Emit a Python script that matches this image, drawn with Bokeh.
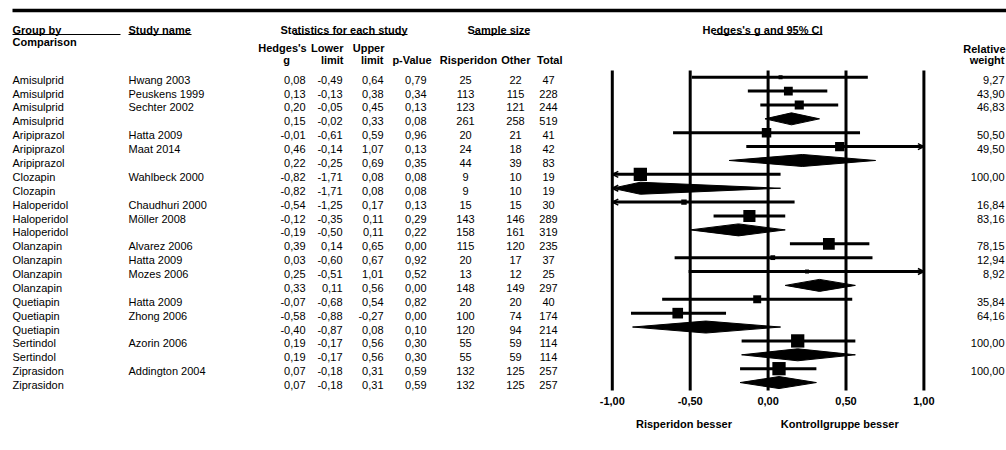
import math

from bokeh.core.properties import value
from bokeh.embed import file_html
from bokeh.models import Arrow, ColumnDataSource, OpenHead, Range1d
from bokeh.plotting import figure
from bokeh.resources import INLINE

# ---------------------------------------------------------------- data
groups = ["Amisulprid"] * 4 + ["Aripiprazol"] * 3 + ["Clozapin"] * 2 + \
         ["Haloperidol"] * 3 + ["Olanzapin"] * 4 + ["Quetiapin"] * 3 + \
         ["Sertindol"] * 2 + ["Ziprasidon"] * 2
studies = ["Hwang 2003", "Peuskens 1999", "Sechter 2002", "",
           "Hatta 2009", "Maat 2014", "",
           "Wahlbeck 2000", "",
           "Chaudhuri 2000", "Möller 2008", "",
           "Alvarez 2006", "Hatta 2009", "Mozes 2006", "",
           "Hatta 2009", "Zhong 2006", "",
           "Azorin 2006", "",
           "Addington 2004", ""]
hedges_g = [0.08, 0.13, 0.20, 0.15, -0.01, 0.46, 0.22, -0.82, -0.82,
            -0.54, -0.12, -0.19, 0.39, 0.03, 0.25, 0.33, -0.07, -0.58,
            -0.40, 0.19, 0.19, 0.07, 0.07]
lower_limit = [-0.49, -0.13, -0.05, -0.02, -0.61, -0.14, -0.25, -1.71, -1.71,
               -1.25, -0.35, -0.50, 0.14, -0.60, -0.51, 0.11, -0.68, -0.88,
               -0.87, -0.17, -0.17, -0.18, -0.18]
upper_limit = [0.64, 0.38, 0.45, 0.33, 0.59, 1.07, 0.69, 0.08, 0.08,
               0.17, 0.11, 0.11, 0.65, 0.67, 1.01, 0.56, 0.54, -0.27,
               0.08, 0.56, 0.56, 0.31, 0.31]
p_value = [0.79, 0.34, 0.13, 0.08, 0.96, 0.13, 0.35, 0.08, 0.08,
           0.13, 0.29, 0.22, 0.00, 0.92, 0.52, 0.00, 0.82, 0.00,
           0.10, 0.30, 0.30, 0.59, 0.59]
n_risperidon = [25, 113, 123, 261, 20, 24, 44, 9, 9, 15, 143, 158,
                115, 20, 13, 148, 20, 100, 120, 55, 55, 132, 132]
n_other = [22, 115, 121, 258, 21, 18, 39, 10, 10, 15, 146, 161,
           120, 17, 12, 149, 20, 74, 94, 59, 59, 125, 125]
n_total = [47, 228, 244, 519, 41, 42, 83, 19, 19, 30, 289, 319,
           235, 37, 25, 297, 40, 174, 214, 114, 114, 257, 257]
relative_weight = [9.27, 43.90, 46.83, None, 50.50, 49.50, None, 100.00, None,
                   16.84, 83.16, None, 78.15, 12.94, 8.92, None, 35.84, 64.16,
                   None, 100.00, None, 100.00, None]

tick_values = [-1.0, -0.5, 0.0, 0.5, 1.0]
tick_labels = ["-1,00", "-0,50", "0,00", "0,50", "1,00"]
favours_labels = ["Risperidon besser", "Kontrollgruppe besser"]

# ---------------------------------------------------------------- layout
W, H = 1006, 450
ROW0_PX, ROW_STEP_PX = 76.7, 13.88        # first row centre, row pitch
ZERO_PX, PX_PER_G = 767.6, 155.8          # forest-plot x scale
FONT = "Liberation Sans"
FS = "11px"
BOX_MAX = 13.3                             # square side for 100 % weight
DIAMOND_HALF = 6.0 / ROW_STEP_PX           # half-height of summary diamonds
TEXT_DROP = 2.5

n = len(groups)
rows = list(range(n))
x_min, x_max = tick_values[0], tick_values[-1]


def comma(v):
    return f"{v:.2f}".replace(".", ",")


p = figure(width=W, height=H,
           x_range=Range1d(-ZERO_PX / PX_PER_G, (W - ZERO_PX) / PX_PER_G),
           y_range=Range1d((H - ROW0_PX) / ROW_STEP_PX, -ROW0_PX / ROW_STEP_PX),
           x_axis_location=None, y_axis_location=None,
           output_backend="svg", toolbar_location=None,
           min_border=0, outline_line_color=None,
           background_fill_color="white", border_fill_color="white")
p.grid.visible = False
p.xgrid.grid_line_color = None
p.ygrid.grid_line_color = None
p.extra_x_ranges = {"table": Range1d(0, W)}
p.extra_y_ranges = {"page": Range1d(H, 0)}

# ---------------------------------------------------------------- table body
table = ColumnDataSource(dict(
    row=rows, group=groups, study=studies,
    g=[comma(v) for v in hedges_g],
    lo=[comma(v) for v in lower_limit],
    up=[comma(v) for v in upper_limit],
    pv=[comma(v) for v in p_value],
    nr=[str(v) for v in n_risperidon],
    no=[str(v) for v in n_other],
    nt=[str(v) for v in n_total],
    w=[comma(v) if v is not None else "" for v in relative_weight],
))
body_style = dict(source=table, x_range_name="table", text_font=value(FONT),
                  text_font_size=FS, text_color="black", text_baseline="middle",
                  y_offset=TEXT_DROP)
for field, xpx, align in [("group", 12, "left"), ("study", 128, "left"),
                          ("g", 305, "right"), ("lo", 342, "right"),
                          ("up", 383, "right"), ("pv", 426, "right"),
                          ("nr", 465, "center"), ("no", 515, "center"),
                          ("nt", 548, "center"), ("w", 1004, "right")]:
    p.text(x=xpx, y="row", text=field, text_align=align, **body_style)

# ---------------------------------------------------------------- headers
headers = [
    ("Group by", 12, 29.5, "left"), ("Comparison", 12, 41.5, "left"),
    ("Study name", 128, 29.5, "left"),
    ("Statistics for each study", 343.5, 29.5, "center"),
    ("Sample size", 498.5, 29.5, "center"),
    ("Hedges's g and 95% CI", 762, 29.5, "center"),
    ("Hedges's", 282, 47.5, "center"), ("g", 286, 59, "center"),
    ("Lower", 343, 47.5, "right"), ("limit", 343, 59, "right"),
    ("Upper", 384, 47.5, "right"), ("limit", 383, 59, "right"),
    ("p-Value", 431, 59, "right"),
    ("Risperidon", 468, 59, "center"),
    ("Other", 530, 59, "right"),
    ("Total", 562, 59, "right"),
    ("Relative", 1005, 48, "right"), ("weight", 1004, 59, "right"),
]
for txt, xpx, ypx, align in headers:
    p.text(x=[xpx], y=[ypx], text=[txt], x_range_name="table", y_range_name="page",
           text_font=value(FONT), text_font_size=FS, text_font_style="bold",
           text_color="black", text_align=align, text_baseline="middle")

underlines = ColumnDataSource(dict(x0=[12, 128, 293, 473, 713],
                                   x1=[120, 191, 407, 529, 822],
                                   y=[34] * 5))
p.segment(x0="x0", y0="y", x1="x1", y1="y", source=underlines,
          x_range_name="table", y_range_name="page",
          line_color="black", line_width=1.2)
p.segment(x0=[12], y0=[10], x1=[W], y1=[10], x_range_name="table",
          y_range_name="page", line_color="black", line_width=3.5)

# ---------------------------------------------------------------- forest plot
grid = ColumnDataSource(dict(x=tick_values, y0=[-0.48] * len(tick_values),
                             y1=[n - 0.43] * len(tick_values)))
p.segment(x0="x", y0="y0", x1="x", y1="y1", source=grid,
          line_color="black", line_width=3)

study_idx = [i for i in rows if studies[i] != ""]
summary_idx = [i for i in rows if studies[i] == ""]

ci = ColumnDataSource(dict(
    row=study_idx,
    g=[hedges_g[i] for i in study_idx],
    x0=[max(lower_limit[i], x_min) for i in study_idx],
    x1=[min(upper_limit[i], x_max) for i in study_idx],
    size=[BOX_MAX * math.sqrt(relative_weight[i] / 100.0) for i in study_idx],
))
p.segment(x0="x0", y0="row", x1="x1", y1="row", source=ci,
          line_color="black", line_width=3)
p.scatter(x="g", y="row", size="size", marker="square", source=ci,
          fill_color="black", line_color=None)

diamonds = ColumnDataSource(dict(
    xs=[[max(lower_limit[i], x_min), hedges_g[i], min(upper_limit[i], x_max), hedges_g[i]]
        for i in summary_idx],
    ys=[[i, i - DIAMOND_HALF, i, i + DIAMOND_HALF] for i in summary_idx],
))
p.patches(xs="xs", ys="ys", source=diamonds, fill_color="black",
          line_color="black", line_width=1)

# arrowheads where the interval runs past the plotted range
ax_s, ax_e, ay = [], [], []
for i in rows:
    if lower_limit[i] < x_min:
        ax_s.append(x_min + 0.08); ax_e.append(x_min); ay.append(i)
    if upper_limit[i] > x_max:
        ax_s.append(x_max - 0.08); ax_e.append(x_max); ay.append(i)
arrows = ColumnDataSource(dict(xs=ax_s, xe=ax_e, y=ay))
p.add_layout(Arrow(end=OpenHead(size=6, line_width=1.5, line_color="black"),
                   x_start="xs", y_start="y", x_end="xe", y_end="y",
                   line_alpha=0, source=arrows))

# tick labels and direction captions
p.text(x=tick_values, y=[400] * len(tick_values), text=tick_labels,
       y_range_name="page", text_font=value(FONT), text_font_size=FS,
       text_font_style="bold", text_color="black", text_align="center",
       text_baseline="middle")
p.text(x=[-0.54, 0.46], y=[423, 423], text=favours_labels,
       y_range_name="page", text_font=value(FONT), text_font_size=FS,
       text_font_style="bold", text_color="black", text_align="center",
       text_baseline="middle")

open("out.html", "w").write(file_html(p, INLINE))
